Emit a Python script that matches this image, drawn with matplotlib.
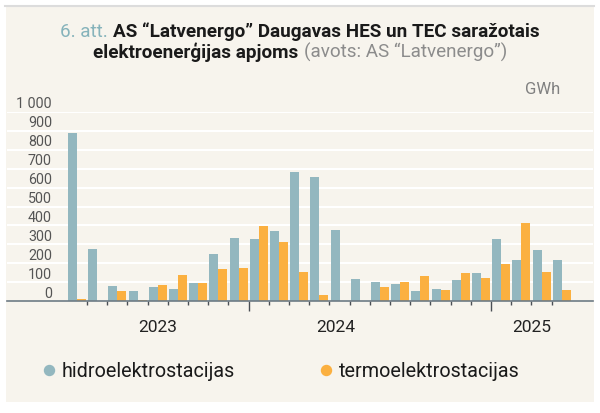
import pandas as pd
import numpy as np
import matplotlib
matplotlib.use('Agg')
import matplotlib.pyplot as plt
from matplotlib.lines import Line2D
from matplotlib.patches import Rectangle
from matplotlib.transforms import blended_transform_factory, offset_copy

plt.rcParams['font.family'] = ['Roboto', 'DejaVu Sans']

# monthly data, April 2023 - April 2025 (GWh)
months = pd.period_range('2023-04', '2025-04', freq='M')
hydro = [890, 276, 80, 54, 73, 65, 98, 252, 332,
         330, 373, 684, 656, 374, 117, 100, 91, 52, 65, 110, 148,
         329, 217, 273, 219]
thermo = [10, 0, 56, 7, 84, 138, 98, 168, 176,
          399, 311, 157, 35, 0, 0, 77, 100, 134, 58, 148, 122,
          197, 411, 157, 58]
y_ticks = [0, 100, 200, 300, 400, 500, 600, 700, 800, 900, 1000]
y_tick_labels = ['0', '100', '200', '300', '400', '500', '600', '700', '800', '900', '1 000']
years = ['2023', '2024', '2025']
series_names = ['hidroelektrostacijas', 'termoelektrostacijas']

blue = '#93b7bf'
orange = '#fbb040'
W, H = 600, 413

fig = plt.figure(figsize=(6, 4.13), dpi=100)
fig.patch.set_facecolor('white')
# beige panel with light rule on top
fig.add_artist(Rectangle((6 / W, 1 - 402 / H), 588 / W, 395 / H,
                         transform=fig.transFigure, facecolor='#f7f4ed',
                         edgecolor='none', zorder=-2))
fig.add_artist(Line2D([5 / W, 594 / W], [1 - 5.5 / H, 1 - 5.5 / H],
                      transform=fig.transFigure, color='#dcdcdc', lw=1.5))

ax = fig.add_axes([7 / W, (H - 301.3) / H, 586 / W, 189.6 / H])
ax.set_facecolor('none')

x = np.arange(len(months))
bw = 0.45
ax.bar(x - bw / 2, hydro, width=bw, color=blue, zorder=3)
ax.bar(x + bw / 2, thermo, width=bw, color=orange, zorder=3)

ax.set_xlim(-3.465, 25.545)
ax.set_ylim(0, 1000)

for v in y_ticks[1:]:
    ax.axhline(v, color='white', lw=1.5, zorder=1)

for s in ['top', 'right', 'left']:
    ax.spines[s].set_visible(False)
ax.spines['bottom'].set_color('#6e7b85')
ax.spines['bottom'].set_linewidth(1.2)
ax.spines['bottom'].set_zorder(4)

# ticks between months, longer ones at year change
bounds = x[:-1] + 0.5
year_change = [b for i, b in enumerate(bounds) if months[i + 1].month == 1]
other = [b for b in bounds if b not in year_change]
ax.set_xticks(year_change)
ax.set_xticks(other, minor=True)
ax.set_xticklabels([])
ax.tick_params(axis='x', which='major', length=7.5, width=1, color='#4a4f55', direction='out')
ax.tick_params(axis='x', which='minor', length=3, width=1, color='#4a4f55', direction='out')
ax.set_yticks([])

# y labels sit above their gridlines
tr = offset_copy(blended_transform_factory(ax.transAxes, ax.transData),
                 fig=fig, x=0, y=3.4, units='dots')
for v, lab in zip(y_ticks, y_tick_labels):
    ax.text(45 / 586, v, lab, transform=tr, ha='right', va='baseline',
            fontsize=10.3, color='#555555')

# year labels
year_pos = [4, 12.8, 22.5]
for xp, yr in zip(year_pos, years):
    ax.annotate(yr, xy=(xp, 0), xycoords=('data', 'axes fraction'),
                xytext=(0, -22.1), textcoords='offset points',
                ha='center', va='baseline', fontsize=12.5, color='#222222')

fig.text(560 / W, 1 - 94.5 / H, 'GWh', ha='right', va='baseline',
         fontsize=12, color='#808080')


# title: two centred lines with mixed styles
def rich_line(pieces, ybase):
    r = fig.canvas.get_renderer()
    arts = []
    for txt, kw in pieces:
        t = fig.text(0, ybase, txt, va='baseline', ha='left', fontsize=13.6, **kw)
        arts.append(t)
    widths = [a.get_window_extent(r).width for a in arts]
    space = 5
    total = sum(widths) + space * (len(arts) - 1)
    xcur = W / 2 - total / 2
    for a, w in zip(arts, widths):
        a.set_x(xcur / W)
        xcur += w + space


rich_line([('6. att.', dict(color='#86b3bb')),
           ('AS “Latvenergo” Daugavas HES un TEC saražotais',
            dict(color='#1a1a1a', fontweight='bold'))], 1 - 37 / H)
rich_line([('elektroenerģijas apjoms', dict(color='#1a1a1a', fontweight='bold')),
           ('(avots: AS “Latvenergo”)', dict(color='#8c8c8c'))],
          1 - 57.5 / H)

# legend
for (cx, tx), name, col in zip([(49, 61.7), (326, 339)], series_names, [blue, orange]):
    fig.add_artist(Line2D([cx / W], [1 - 369.5 / H], marker='o', markersize=7.2,
                          color=col, lw=0, transform=fig.transFigure))
    fig.text(tx / W, 1 - 376.7 / H, name, ha='left', va='baseline',
             fontsize=14.2, color='#1a1a1a')

fig.savefig('out.png', dpi=100)
